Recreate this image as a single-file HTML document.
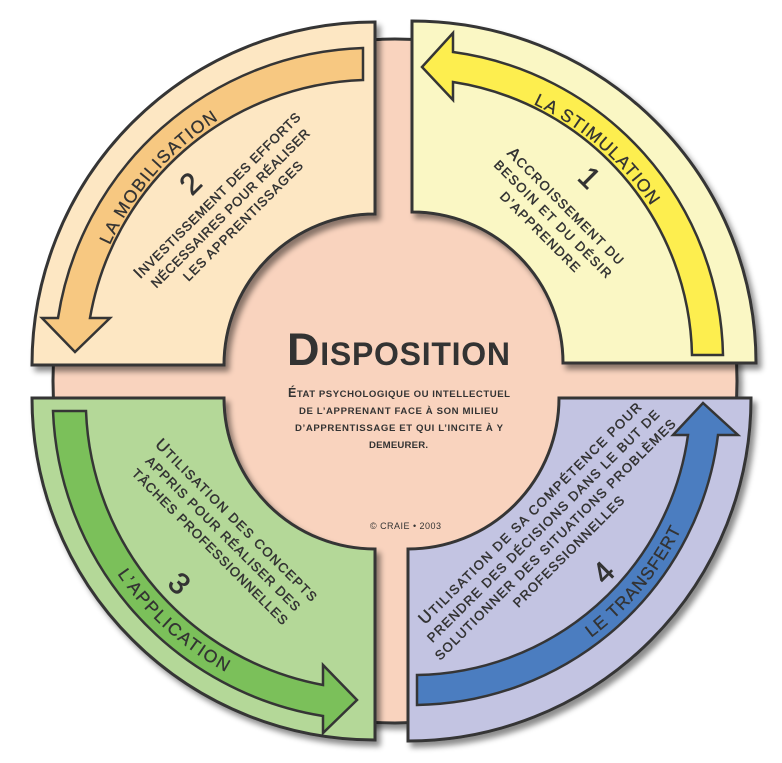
<!DOCTYPE html>
<html><head><meta charset="utf-8">
<style>html,body{margin:0;padding:0;background:#fff;}svg{display:block;}</style>
</head><body>
<svg width="782" height="763" viewBox="0 0 782 763" xmlns="http://www.w3.org/2000/svg" font-family="'Liberation Sans', sans-serif">
<defs>
<filter id="sh" x="-20%" y="-20%" width="140%" height="140%">
<feDropShadow dx="4" dy="5" stdDeviation="3" flood-color="#000" flood-opacity="0.45"/>
</filter>
<path id="pM" d="M 85.1,339.6 A 291 291 0 0 1 309.5,81.5"/>
<path id="pS" d="M 436.9,78.1 A 286 286 0 0 1 690.7,298.7"/>
<path id="pA" d="M 69.8,462.9 A 312 312 0 0 0 342.4,708.3"/>
<path id="pT" d="M 486.1,687.7 A 300 300 0 0 0 711.4,416.4"/>
</defs>

<!-- background circle -->
<circle cx="395" cy="381" r="342" fill="#F9D3BE" stroke="#353535" stroke-width="3" filter="url(#sh)"/>

<!-- quadrants -->
<g stroke="#353535" stroke-width="3" stroke-linejoin="miter">
<path filter="url(#sh)" fill="#FDE7C3" d="M 375,22 L 375,214 A 151 151 0 0 0 224,365 L 32,365 A 343 343 0 0 1 375,22 Z"/>
<path filter="url(#sh)" fill="#FAF7C4" d="M 412,21 L 412,212 A 151 151 0 0 1 563,363 L 756,363 A 344 342 0 0 0 412,21 Z"/>
<path filter="url(#sh)" fill="#B4D898" d="M 32,398 L 224,398 A 151 151 0 0 0 375,549 L 375,740 A 343 342 0 0 1 32,398 Z"/>
<path filter="url(#sh)" fill="#C3C4E2" d="M 408,549 A 151 151 0 0 0 559,398 L 751,398 A 343 343 0 0 1 408,741 Z"/>
</g>

<!-- arrows -->
<g stroke="#353535" stroke-width="2.5" stroke-linejoin="miter">
<path fill="#F7C881" d="M 363,48 A 319 319 0 0 0 58,318 L 42,318 L 75,352 L 110,318 L 90,318 A 287 287 0 0 1 363,80 Z"/>
<path fill="#FDEE4F" d="M 723,355 A 312 312 0 0 0 453,52 L 453,33 L 422,67 L 453,100 L 453,82 A 282 282 0 0 1 692,355 Z"/>
<path fill="#7BC05A" d="M 53,411 A 322 322 0 0 0 323,716 L 323,733 L 357,700 L 323,665 L 323,685 A 290 290 0 0 1 86,411 Z"/>
<path fill="#4B7DC0" d="M 417,705 A 308 308 0 0 0 718,435 L 738,435 L 703,403 L 673,435 L 688,435 A 278 278 0 0 1 417,675 Z"/>
</g>

<!-- arc labels -->
<g font-size="17.5" fill="#333" stroke="#333" stroke-width="0.3">
<text letter-spacing="1.4"><textPath href="#pM" startOffset="50%" text-anchor="middle">LA MOBILISATION</textPath></text>
<text letter-spacing="1.2"><textPath href="#pS" startOffset="50%" text-anchor="middle">LA STIMULATION</textPath></text>
<text letter-spacing="1.7"><textPath href="#pA" startOffset="50%" text-anchor="middle">L’APPLICATION</textPath></text>
<text letter-spacing="1.0"><textPath href="#pT" startOffset="50%" text-anchor="middle">LE TRANSFERT</textPath></text>
</g>

<!-- center -->
<text x="398.5" y="365" text-anchor="middle" font-weight="bold" fill="#333" textLength="223"><tspan font-size="45">D</tspan><tspan font-size="32">ISPOSITION</tspan></text>
<g font-weight="bold" font-size="9.6" fill="#333" text-anchor="middle">
<text x="399" y="397" textLength="222"><tspan font-size="12.5">É</tspan>TAT PSYCHOLOGIQUE OU INTELLECTUEL</text>
<text x="398.5" y="414" textLength="199">DE L’APPRENANT FACE À SON MILIEU</text>
<text x="399" y="431" textLength="208">D’APPRENTISSAGE ET QUI L’INCITE À Y</text>
<text x="398.5" y="448" textLength="59">DEMEURER.</text>
</g>
<text x="405.5" y="529" text-anchor="middle" font-size="9" fill="#333" textLength="71">© CRAIE • 2003</text>

<!-- quadrant descriptions -->
<g font-size="13" fill="#333" stroke="#333" stroke-width="0.45" text-anchor="middle">
<g transform="rotate(-45)">
<text x="15.5" y="296.6" textLength="228"><tspan font-size="16.5">I</tspan>NVESTISSEMENT DES EFFORTS</text>
<text x="15.5" y="314.6" textLength="218">NÉCESSAIRES POUR RÉALISER</text>
<text x="15.5" y="332.6" textLength="163">LES APPRENTISSAGES</text>
</g>
<g transform="rotate(45)">
<text x="545.8" y="-249.4" textLength="158"><tspan font-size="16.5">A</tspan>CCROISSEMENT DU</text>
<text x="545.8" y="-231.6" textLength="160">BESOIN ET DU DÉSIR</text>
<text x="545.8" y="-213.6" textLength="107">D’APPRENDRE</text>
</g>
<g transform="rotate(45)">
<text x="535" y="205.6" textLength="222"><tspan font-size="16.5">U</tspan>TILISATION DES CONCEPTS</text>
<text x="535" y="224.1" textLength="212">APPRIS POUR RÉALISER DES</text>
<text x="535" y="242.6" textLength="214">TÂCHES PROFESSIONNELLES</text>
</g>
<g transform="rotate(-45)">
<text x="12" y="742.6" textLength="307"><tspan font-size="16.5">U</tspan>TILISATION DE SA COMPÉTENCE POUR</text>
<text x="12" y="760.6" textLength="322">PRENDRE DES DÉCISIONS DANS LE BUT DE</text>
<text x="11" y="778.6" textLength="334">SOLUTIONNER DES SITUATIONS PROBLÈMES</text>
<text x="12" y="796.6" textLength="151">PROFESSIONNELLES</text>
</g>
</g>

<!-- numbers -->
<g font-size="30" fill="#333" stroke="#333" stroke-width="0.6" text-anchor="middle">
<text transform="rotate(-45)" x="5" y="274.7">2</text>
<text transform="rotate(45)" x="542.3" y="-281">1</text>
<text transform="rotate(45)" x="539.4" y="296">3</text>
<text transform="rotate(-45)" x="21.9" y="841.7">4</text>
</g>
</svg>
</body></html>
